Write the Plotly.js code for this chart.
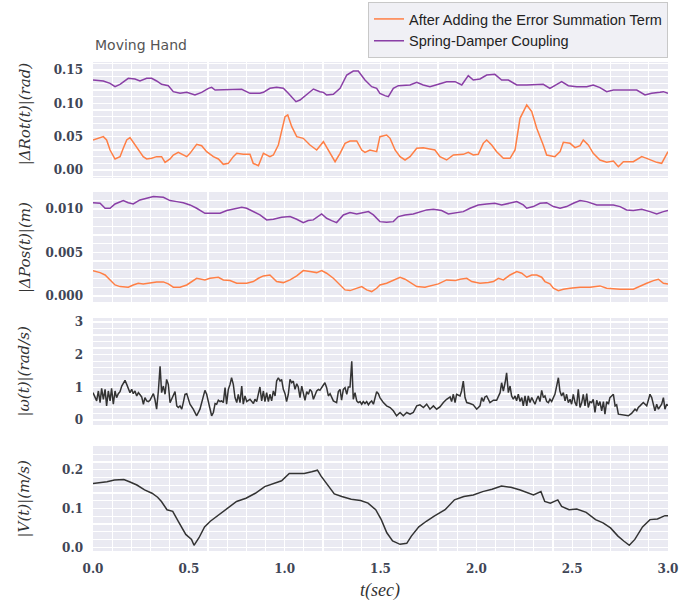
<!DOCTYPE html>
<html><head><meta charset="utf-8">
<script src="https://cdn.plot.ly/plotly-3.0.1.min.js"></script>
<style>body{margin:0;background:#fff}</style>
</head><body><div id="chart" style="width:697px;height:602px"></div>
<script>
// ---- Data ----
const seriesNames = ["After Adding the Error Summation Term", "Spring-Damper Coupling"];

// Panel 1: |ΔRot(t)|
const rotSpringT = [0,0.054,0.089,0.115,0.141,0.184,0.219,0.245,0.280,0.306,0.332,0.358,0.393,0.419,0.454,0.489,0.532,0.567,0.602,0.619,0.637,0.680,0.732,0.776,0.819,0.871,0.889,0.923,0.958,0.993,1.019,1.037,1.059,1.080,1.115,1.150,1.184,1.202,1.219,1.254,1.289,1.324,1.358,1.384,1.419,1.454,1.480,1.497,1.523,1.541,1.567,1.593,1.654,1.689,1.723,1.758,1.802,1.845,1.889,1.924,1.958,1.984,2.019,2.054,2.097,2.132,2.167,2.211,2.263,2.349,2.384,2.419,2.445,2.480,2.524,2.576,2.610,2.645,2.680,2.715,2.767,2.837,2.880,2.915,2.958,2.976,3.0];
const rotSpringV = [0.135,0.1335,0.130,0.125,0.1285,0.1375,0.1365,0.1335,0.1375,0.1375,0.1335,0.1285,0.1265,0.1175,0.115,0.1165,0.1125,0.1165,0.1225,0.124,0.120,0.120,0.120,0.121,0.115,0.115,0.1165,0.1225,0.124,0.1225,0.115,0.110,0.1025,0.105,0.1135,0.1215,0.1175,0.1165,0.1125,0.1135,0.1225,0.1425,0.1485,0.1485,0.135,0.125,0.1225,0.115,0.1115,0.110,0.1225,0.1265,0.1275,0.1315,0.1275,0.125,0.1285,0.1325,0.1325,0.1275,0.1415,0.135,0.1365,0.1425,0.1435,0.135,0.135,0.1275,0.1275,0.1285,0.1225,0.1285,0.1325,0.1265,0.125,0.125,0.1275,0.1235,0.1175,0.120,0.120,0.120,0.1125,0.115,0.1165,0.1175,0.115];

const rotErrT = [0,0.037,0.054,0.071,0.089,0.115,0.141,0.158,0.176,0.193,0.210,0.236,0.262,0.280,0.306,0.332,0.358,0.376,0.402,0.419,0.445,0.489,0.506,0.541,0.567,0.593,0.628,0.654,0.680,0.706,0.732,0.750,0.784,0.819,0.836,0.863,0.889,0.923,0.941,0.967,0.984,1.002,1.016,1.037,1.063,1.097,1.132,1.167,1.202,1.228,1.263,1.289,1.315,1.341,1.376,1.402,1.419,1.445,1.480,1.497,1.532,1.550,1.576,1.602,1.628,1.654,1.689,1.723,1.784,1.810,1.845,1.880,1.932,1.958,1.984,2.010,2.036,2.054,2.080,2.106,2.141,2.176,2.202,2.228,2.263,2.289,2.315,2.349,2.367,2.410,2.437,2.454,2.489,2.515,2.541,2.558,2.584,2.610,2.645,2.680,2.715,2.741,2.767,2.819,2.863,2.889,2.941,2.967,3.0];
const rotErrV = [0.045,0.0485,0.050,0.045,0.030,0.0165,0.020,0.0325,0.045,0.0485,0.0415,0.030,0.020,0.0165,0.0175,0.020,0.020,0.0115,0.0165,0.0225,0.0265,0.020,0.025,0.0385,0.0365,0.0275,0.020,0.0165,0.0085,0.010,0.020,0.025,0.0235,0.0235,0.010,0.0065,0.025,0.020,0.0225,0.0375,0.0575,0.080,0.0825,0.065,0.050,0.0475,0.0375,0.030,0.0425,0.030,0.0125,0.025,0.040,0.0435,0.0435,0.030,0.0265,0.030,0.0275,0.050,0.0525,0.0475,0.030,0.020,0.015,0.020,0.0325,0.0335,0.030,0.020,0.015,0.0225,0.0235,0.0265,0.0225,0.0235,0.040,0.045,0.0375,0.0275,0.0175,0.0175,0.030,0.0775,0.0975,0.0875,0.0625,0.0375,0.0225,0.020,0.0275,0.0415,0.040,0.0335,0.0365,0.045,0.0375,0.025,0.015,0.0115,0.0135,0.005,0.0125,0.0125,0.020,0.0175,0.0115,0.010,0.0275];

// Panel 2: |ΔPos(t)|
const posSpringT = [0,0.037,0.063,0.089,0.115,0.158,0.184,0.210,0.245,0.280,0.315,0.367,0.402,0.437,0.471,0.506,0.541,0.584,0.663,0.698,0.732,0.776,0.802,0.836,0.871,0.906,0.941,0.984,1.028,1.063,1.097,1.123,1.149,1.193,1.219,1.245,1.271,1.306,1.341,1.376,1.411,1.437,1.463,1.497,1.532,1.567,1.593,1.628,1.671,1.706,1.741,1.776,1.819,1.854,1.889,1.932,1.967,2.010,2.054,2.097,2.132,2.167,2.211,2.245,2.263,2.297,2.332,2.367,2.402,2.437,2.471,2.506,2.541,2.576,2.602,2.628,2.680,2.715,2.750,2.784,2.819,2.863,2.906,2.941,2.976,3.0];
const posSpringV = [0.01072,0.01065,0.01008,0.01008,0.01057,0.01096,0.01072,0.01057,0.01103,0.01123,0.01142,0.01134,0.01096,0.01084,0.01072,0.01046,0.01008,0.00950,0.00950,0.00981,0.00996,0.01019,0.01008,0.00969,0.00931,0.00874,0.00881,0.00904,0.00912,0.00881,0.00843,0.00866,0.00874,0.00943,0.00893,0.00866,0.00843,0.00931,0.00958,0.00943,0.00958,0.00969,0.00931,0.00854,0.00847,0.00854,0.00912,0.00931,0.00943,0.00969,0.00989,0.00996,0.00981,0.00943,0.00958,0.00969,0.01008,0.01046,0.01057,0.01065,0.01046,0.01065,0.01084,0.01046,0.01008,0.01027,0.01065,0.01072,0.01027,0.01008,0.01027,0.01065,0.01096,0.01084,0.01065,0.01046,0.01046,0.01046,0.01027,0.00989,0.00981,0.00996,0.00969,0.00943,0.00969,0.00981];

const posErrT = [0,0.037,0.063,0.089,0.115,0.141,0.184,0.210,0.236,0.262,0.297,0.332,0.367,0.393,0.419,0.454,0.489,0.524,0.541,0.584,0.610,0.654,0.680,0.715,0.750,0.802,0.836,0.863,0.889,0.923,0.958,0.993,1.028,1.063,1.097,1.132,1.167,1.193,1.219,1.254,1.289,1.315,1.341,1.376,1.402,1.428,1.454,1.480,1.497,1.532,1.567,1.602,1.628,1.663,1.689,1.732,1.767,1.802,1.845,1.889,1.915,1.950,1.976,2.019,2.063,2.089,2.115,2.141,2.176,2.211,2.237,2.263,2.289,2.315,2.341,2.358,2.384,2.402,2.428,2.454,2.489,2.541,2.593,2.645,2.680,2.750,2.819,2.854,2.889,2.924,2.950,2.976,3.0];
const posErrV = [0.00291,0.00268,0.00241,0.00184,0.00126,0.00107,0.00100,0.00126,0.00146,0.00138,0.00153,0.00161,0.00161,0.00138,0.00100,0.00100,0.00126,0.00184,0.00203,0.00184,0.00203,0.00215,0.00184,0.00176,0.00146,0.00146,0.00165,0.00203,0.00230,0.00241,0.00165,0.00153,0.00184,0.00230,0.00291,0.00280,0.00268,0.00291,0.00261,0.00203,0.00126,0.00069,0.00061,0.00088,0.00107,0.00069,0.00050,0.00088,0.00126,0.00146,0.00184,0.00215,0.00192,0.00138,0.00107,0.00100,0.00115,0.00138,0.00184,0.00176,0.00192,0.00203,0.00165,0.00146,0.00153,0.00165,0.00203,0.00184,0.00241,0.00280,0.00261,0.00215,0.00241,0.00241,0.00215,0.00165,0.00138,0.00088,0.00061,0.00077,0.00088,0.00100,0.00100,0.00115,0.00088,0.00077,0.00077,0.00115,0.00146,0.00176,0.00192,0.00146,0.00138];

// Panel 3: |ω(t)|
const omegaT = [0,0.019,0.028,0.037,0.045,0.054,0.063,0.071,0.080,0.089,0.097,0.106,0.115,0.123,0.132,0.141,0.150,0.158,0.167,0.176,0.184,0.193,0.202,0.210,0.219,0.228,0.237,0.245,0.254,0.263,0.271,0.280,0.289,0.297,0.306,0.315,0.323,0.332,0.341,0.350,0.358,0.367,0.376,0.384,0.393,0.402,0.410,0.419,0.428,0.437,0.445,0.454,0.463,0.471,0.480,0.489,0.497,0.506,0.523,0.541,0.558,0.576,0.584,0.593,0.602,0.610,0.619,0.628,0.637,0.645,0.654,0.663,0.671,0.680,0.689,0.697,0.706,0.715,0.723,0.732,0.741,0.750,0.758,0.767,0.776,0.784,0.793,0.802,0.819,0.837,0.845,0.854,0.863,0.871,0.880,0.889,0.897,0.906,0.915,0.923,0.932,0.941,0.950,0.958,0.967,0.976,0.984,0.993,1.002,1.010,1.019,1.028,1.037,1.045,1.054,1.063,1.071,1.080,1.089,1.097,1.106,1.115,1.124,1.132,1.141,1.150,1.158,1.167,1.176,1.184,1.202,1.210,1.219,1.228,1.237,1.254,1.271,1.280,1.289,1.297,1.306,1.315,1.324,1.332,1.341,1.350,1.358,1.367,1.376,1.384,1.393,1.402,1.410,1.419,1.428,1.437,1.445,1.454,1.463,1.471,1.480,1.489,1.497,1.515,1.532,1.550,1.567,1.584,1.602,1.619,1.637,1.654,1.671,1.689,1.706,1.724,1.741,1.758,1.776,1.793,1.810,1.828,1.845,1.863,1.871,1.880,1.889,1.897,1.915,1.923,1.932,1.941,1.950,1.967,1.984,2.002,2.019,2.028,2.037,2.045,2.054,2.071,2.089,2.106,2.124,2.132,2.141,2.150,2.158,2.167,2.176,2.184,2.193,2.202,2.210,2.219,2.228,2.237,2.245,2.254,2.263,2.271,2.280,2.289,2.297,2.306,2.315,2.323,2.332,2.341,2.350,2.358,2.367,2.376,2.384,2.393,2.402,2.410,2.419,2.428,2.436,2.445,2.454,2.463,2.471,2.480,2.489,2.497,2.506,2.515,2.523,2.532,2.541,2.550,2.558,2.567,2.576,2.584,2.593,2.602,2.610,2.619,2.628,2.637,2.645,2.654,2.663,2.671,2.680,2.689,2.697,2.706,2.715,2.724,2.732,2.741,2.758,2.776,2.793,2.810,2.828,2.837,2.845,2.854,2.871,2.889,2.897,2.906,2.915,2.923,2.932,2.941,2.950,2.967,2.976,2.984,2.993,3.0];
const omegaV = [0.838,0.586,0.889,0.535,0.970,0.636,0.939,0.434,0.889,0.586,0.970,0.485,0.889,0.687,0.808,0.869,1.040,1.141,1.212,1.091,0.970,0.838,0.939,0.808,0.889,0.737,0.838,0.788,0.707,0.485,0.687,0.586,0.566,0.606,0.707,0.808,0.636,0.333,0.889,1.646,0.838,1.040,0.788,1.242,1.091,0.535,0.636,0.737,0.869,0.434,0.384,0.434,0.333,0.535,0.788,0.808,0.636,0.485,0.333,0.131,0.333,0.687,0.909,0.788,0.535,0.283,0.131,0.232,0.505,0.485,0.606,0.566,0.586,0.535,0.990,0.485,0.939,1.091,1.293,1.091,0.687,0.535,0.788,0.535,1.040,0.485,0.737,0.566,0.636,0.505,0.636,0.566,0.788,1.010,0.586,0.889,0.566,0.838,0.566,0.788,0.586,0.889,0.737,1.192,1.293,1.192,1.242,0.939,0.808,0.566,0.788,1.242,1.141,1.192,0.939,1.111,1.010,0.687,1.040,0.838,0.606,0.869,0.788,0.939,0.869,0.636,0.788,0.889,0.939,0.909,1.071,1.141,0.990,0.737,0.808,0.586,0.535,0.869,0.939,0.606,0.939,0.990,0.788,1.010,1.010,1.798,0.636,0.838,0.586,0.535,0.566,0.485,0.566,0.505,0.566,0.465,0.535,0.586,0.485,0.636,0.869,0.808,0.687,0.535,0.434,0.384,0.283,0.131,0.232,0.131,0.232,0.182,0.232,0.434,0.465,0.384,0.485,0.333,0.434,0.333,0.404,0.535,0.636,0.707,0.566,0.788,0.535,0.788,0.737,0.889,1.192,0.687,0.535,0.505,0.465,0.333,0.434,0.687,0.566,0.707,0.737,0.535,0.606,0.606,0.838,1.141,0.889,1.141,1.444,0.838,1.040,0.737,0.636,0.737,0.586,0.788,0.566,0.687,0.434,0.737,0.434,0.737,0.535,0.687,0.566,0.485,0.636,0.737,0.566,0.909,0.687,0.737,0.566,0.535,0.636,0.566,0.687,0.788,1.040,1.293,0.889,0.737,0.838,0.586,0.788,0.535,0.636,0.485,0.788,0.535,0.434,0.939,0.384,0.535,0.788,0.434,0.808,0.384,0.566,0.535,0.636,0.232,0.606,0.434,0.566,0.283,0.566,0.182,0.566,0.485,0.687,0.737,0.788,0.434,0.465,0.182,0.162,0.162,0.131,0.202,0.333,0.283,0.384,0.434,0.535,0.434,0.586,0.788,0.687,0.485,0.283,0.485,0.333,0.485,0.687,0.333,0.485,0.434];

// Panel 4: |V(t)|
const velT = [0,0.033,0.073,0.112,0.161,0.190,0.229,0.269,0.308,0.337,0.357,0.386,0.416,0.445,0.484,0.514,0.527,0.553,0.582,0.612,0.641,0.671,0.710,0.749,0.798,0.847,0.896,0.945,0.984,1.024,1.063,1.102,1.141,1.171,1.190,1.229,1.259,1.298,1.347,1.396,1.435,1.475,1.504,1.533,1.563,1.602,1.637,1.661,1.700,1.739,1.778,1.837,1.886,1.935,1.984,2.033,2.082,2.131,2.180,2.229,2.269,2.298,2.337,2.357,2.386,2.425,2.445,2.484,2.524,2.573,2.622,2.661,2.700,2.739,2.769,2.798,2.827,2.867,2.906,2.945,2.984,3.0];
const velV = [0.1647,0.1664,0.1690,0.1732,0.1749,0.1690,0.1605,0.1478,0.1393,0.1291,0.1181,0.0968,0.0926,0.0671,0.0332,0.0204,0.0052,0.0247,0.0527,0.0671,0.0782,0.0883,0.1053,0.1181,0.1265,0.1393,0.1563,0.1647,0.1715,0.1902,0.1902,0.1902,0.1945,0.1987,0.1834,0.1563,0.1376,0.1308,0.1240,0.1206,0.1138,0.0968,0.0714,0.0374,0.0162,0.0077,0.0102,0.0289,0.0527,0.0671,0.0799,0.0968,0.1223,0.1308,0.1350,0.1435,0.1495,0.1580,0.1546,0.1478,0.1410,0.1350,0.1435,0.1181,0.1138,0.1223,0.1053,0.0968,0.0985,0.0900,0.0714,0.0629,0.0501,0.0289,0.0162,0.0052,0.0204,0.0527,0.0714,0.0731,0.0815,0.0815];

// ---- Styling ----
const ORANGE = '#FF7F45', PURPLE = '#8A3FA6', DARK = '#333333';
const tickFont = {family:'DejaVu Serif', size:12, color:'#3f4656', weight:700};
const gridW = 1.3;

function line(x, y, color, xa, ya, name, show) {
  return {x:x, y:y, type:'scatter', mode:'lines', line:{color:color, width:1.5},
          xaxis:xa, yaxis:ya, name:name||'', showlegend:!!show, hoverinfo:'skip'};
}
const traces = [
  line(rotErrT, rotErrV, ORANGE, 'x', 'y', seriesNames[0], true),
  line(rotSpringT, rotSpringV, PURPLE, 'x', 'y', seriesNames[1], true),
  line(posErrT, posErrV, ORANGE, 'x2', 'y2'),
  line(posSpringT, posSpringV, PURPLE, 'x2', 'y2'),
  line(omegaT, omegaV, DARK, 'x3', 'y3'),
  line(velT, velV, DARK, 'x4', 'y4')
];

function xax(anchor, showLabels) {
  return {domain:[0,1], range:[0,3], anchor:anchor, showgrid:true, gridcolor:'#ffffff', gridwidth:gridW,
    dtick:0.5, tick0:0, zeroline:false, showline:false, ticks:'', showticklabels:showLabels,
    tickformat:'.1f', tickfont:tickFont, ticklabelstandoff:9,
    minor:{dtick:0.1, tick0:0, showgrid:true, gridcolor:'#ffffff', gridwidth:gridW}};
}
function yax(domain, range, dtick, mdtick, fmt) {
  return {domain:domain, range:range, showgrid:true, gridcolor:'#ffffff', gridwidth:gridW,
    dtick:dtick, tick0:0, zeroline:false, showline:false, ticks:'', tickformat:fmt,
    tickfont:tickFont, ticklabelstandoff:9,
    minor:{dtick:mdtick, tick0:0, showgrid:true, gridcolor:'#ffffff', gridwidth:gridW}};
}
const ytFont = {family:'DejaVu Serif', size:15, color:'#333333', style:'italic'};
function ytitle(text, y) {
  return {text:text, x:-0.1183, y:y, xref:'paper', yref:'paper', showarrow:false,
          textangle:-90, font:ytFont, xanchor:'center', yanchor:'middle'};
}

const layout = {
  width:697, height:602,
  margin:{l:93, r:29, t:62, b:51, autoexpand:false},
  paper_bgcolor:'#ffffff', plot_bgcolor:'#EAEAF2',
  showlegend:true,
  legend:{x:1, xanchor:'right', y:1.1227, yanchor:'top', bgcolor:'#F0F0F5',
          bordercolor:'#C8C8C8', borderwidth:1, font:{family:'Liberation Sans', size:14.5, color:'#222'},
          tracegroupgap:0, itemwidth:30},
  xaxis:xax('y', false), xaxis2:xax('y2', false), xaxis3:xax('y3', false), xaxis4:xax('y4', true),
  yaxis:yax([0.7628,1.0], [-0.012,0.162], 0.05, 0.01, '.2f'),
  yaxis2:yax([0.5092,0.7342], [-0.0007,0.01195], 0.005, 0.001, '.3f'),
  yaxis3:yax([0.2577,0.4765], [-0.15,3.12], 1, 0.2, 'd'),
  yaxis4:yax([0,0.2147], [-0.0095,0.261], 0.1, 0.02, '.1f'),
  annotations:[
    {text:'Moving Hand', x:0, y:1.0348, xref:'paper', yref:'paper', showarrow:false,
     xanchor:'left', yanchor:'middle', font:{family:'DejaVu Sans', size:14, color:'#555555'}},
    ytitle('|ΔRot(t)|(rad)', 0.895),
    ytitle('|ΔPos(t)|(m)', 0.6217),
    ytitle('|ω(t)|(rad/s)', 0.3671),
    ytitle('|V(t)|(m/s)', 0.1074),
    {text:'t(sec)', x:0.499, y:-0.0798, xref:'paper', yref:'paper', showarrow:false,
     xanchor:'center', yanchor:'middle', font:{family:'Liberation Serif', size:18, color:'#333333', style:'italic'}}
  ]
};

Plotly.newPlot('chart', traces, layout, {displayModeBar:false, staticPlot:true});
</script>
</body></html>
